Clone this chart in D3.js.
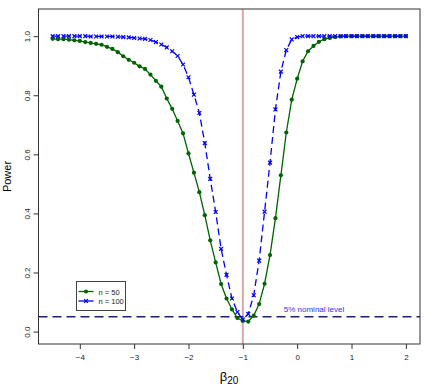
<!DOCTYPE html>
<html>
<head>
<meta charset="utf-8">
<script src="https://cdn.jsdelivr.net/npm/d3@7"></script>
<style>
  body { margin: 0; background: #fff; }
  text { font-family: "Liberation Sans", Arial, sans-serif; }
</style>
</head>
<body>
<svg id="chart" width="429" height="388"></svg>
<script>
/* valores */
var beta = d3.range(66).map(function(i){ return Math.round((-4.5 + i * 0.1) * 10) / 10; });

var power_n50 = [0.991, 0.990, 0.990, 0.988, 0.986, 0.984, 0.980, 0.977, 0.974, 0.971,
                 0.964, 0.957, 0.946, 0.932, 0.920, 0.910, 0.898, 0.889, 0.870, 0.849,
                 0.829, 0.789, 0.754, 0.713, 0.671, 0.603, 0.538, 0.472, 0.394, 0.309,
                 0.234, 0.161, 0.112, 0.075, 0.046, 0.036, 0.034, 0.054, 0.093, 0.162,
                 0.259, 0.384, 0.529, 0.674, 0.785, 0.856, 0.915, 0.949, 0.967, 0.981,
                 0.990, 0.994, 0.997, 0.999, 1.000, 1.000, 1.000, 1.000, 1.000, 1.000,
                 1.000, 1.000, 1.000, 1.000, 1.000, 1.000];

var power_n100 = [1.000, 1.000, 1.000, 1.000, 1.000, 1.000, 1.000, 0.999, 0.999, 0.999,
                  0.999, 0.999, 0.998, 0.997, 0.996, 0.994, 0.992, 0.991, 0.987, 0.980,
                  0.972, 0.962, 0.949, 0.933, 0.904, 0.861, 0.802, 0.740, 0.638, 0.517,
                  0.405, 0.280, 0.192, 0.112, 0.066, 0.041, 0.060, 0.123, 0.240, 0.406,
                  0.572, 0.752, 0.880, 0.953, 0.989, 0.997, 1.000, 1.000, 1.000, 1.000,
                  1.000, 1.000, 1.000, 1.000, 1.000, 1.000, 1.000, 1.000, 1.000, 1.000,
                  1.000, 1.000, 1.000, 1.000, 1.000, 1.000];

var xTicks = [-4, -3, -2, -1, 0, 1, 2];
var yTicks = [0.0, 0.2, 0.4, 0.6, 0.8, 1.0];
var legendLabels = ["n = 50", "n = 100"];
var nominal = 0.05;
var trueBeta = -1;

var box = {left: 38.5, right: 420, top: 9, bottom: 344};

var svg = d3.select("#chart");

var x = d3.scaleLinear().domain([-4.76, 2.26]).range([box.left, box.right]);
var y = d3.scaleLinear().domain([-0.042, 1.092]).range([box.bottom, box.top]);

/* linha vertical no valor verdadeiro */
svg.append("line")
  .attr("x1", x(trueBeta)).attr("x2", x(trueBeta))
  .attr("y1", box.top).attr("y2", box.bottom)
  .attr("stroke", "#dba8a8").attr("stroke-width", 2);

/* nivel nominal 5% */
svg.append("line")
  .attr("x1", box.left).attr("x2", box.right)
  .attr("y1", y(nominal)).attr("y2", y(nominal))
  .attr("stroke", "#1f1f7a").attr("stroke-width", 1.6)
  .attr("stroke-dasharray", "9,5");

svg.append("text")
  .attr("x", 314).attr("y", y(nominal) - 5)
  .attr("text-anchor", "middle")
  .attr("font-size", 8)
  .attr("fill", "#3333ff")
  .text("5% nominal level");

var line = d3.line()
  .x(function(d){ return x(d[0]); })
  .y(function(d){ return y(d[1]); });

var d50 = beta.map(function(b, i){ return [b, power_n50[i]]; });
var d100 = beta.map(function(b, i){ return [b, power_n100[i]]; });

/* n = 50 */
svg.append("path").datum(d50)
  .attr("d", line)
  .attr("fill", "none").attr("stroke", "#006400").attr("stroke-width", 1.3);
svg.selectAll(".dot50").data(d50).enter().append("circle")
  .attr("class", "dot50")
  .attr("cx", function(d){ return x(d[0]); })
  .attr("cy", function(d){ return y(d[1]); })
  .attr("r", 2.1)
  .attr("fill", "#006400");

/* n = 100 */
svg.append("path").datum(d100)
  .attr("d", line)
  .attr("fill", "none").attr("stroke", "#0000ff").attr("stroke-width", 1.3)
  .attr("stroke-dasharray", "7,4");

function cross(g, cx, cy, s){
  g.append("path")
    .attr("d", "M" + (cx - s) + "," + (cy - s) + "L" + (cx + s) + "," + (cy + s) +
               "M" + (cx - s) + "," + (cy + s) + "L" + (cx + s) + "," + (cy - s))
    .attr("stroke", "#0000ff").attr("stroke-width", 1.2).attr("fill", "none");
}
var gx = svg.append("g");
d100.forEach(function(d){ cross(gx, x(d[0]), y(d[1]), 1.9); });

/* caixa */
svg.append("rect")
  .attr("x", box.left).attr("y", box.top)
  .attr("width", box.right - box.left).attr("height", box.bottom - box.top)
  .attr("fill", "none").attr("stroke", "#333").attr("stroke-width", 1);

/* eixos */
var xAxis = d3.axisBottom(x).tickValues(xTicks).tickSizeOuter(0).tickSizeInner(5).tickPadding(5)
  .tickFormat(function(d){ return d < 0 ? "\u2212" + Math.abs(d) : d; });
var gxa = svg.append("g").attr("transform", "translate(0," + box.bottom + ")").call(xAxis);
gxa.select(".domain").remove();
gxa.selectAll("line").attr("stroke", "#333");
gxa.selectAll("text").attr("font-size", 8).attr("fill", "#222")
  .attr("font-family", "Liberation Sans, Arial, sans-serif");

var yAxis = d3.axisLeft(y).tickValues(yTicks).tickSizeOuter(0).tickSizeInner(5)
  .tickFormat(d3.format(".1f"));
var gya = svg.append("g").attr("transform", "translate(" + box.left + ",0)").call(yAxis);
gya.select(".domain").remove();
gya.selectAll("line").attr("stroke", "#333");
gya.selectAll("text")
  .attr("font-size", 8).attr("fill", "#222")
  .attr("font-family", "Liberation Sans, Arial, sans-serif")
  .attr("x", null).attr("dy", null)
  .attr("text-anchor", "middle")
  .attr("transform", "translate(-12,0) rotate(-90)")
  .attr("y", 3);

/* titulos dos eixos */
svg.append("text")
  .attr("transform", "translate(11," + ((box.top + box.bottom) / 2) + ") rotate(-90)")
  .attr("text-anchor", "middle")
  .attr("font-size", 11)
  .text("Power");

var xl = svg.append("text")
  .attr("x", 229).attr("y", 381)
  .attr("text-anchor", "middle")
  .attr("font-size", 13);
xl.append("tspan").text("\u03b2");
xl.append("tspan").attr("font-size", 10).attr("dy", 3).text("20");

/* legenda */
var leg = svg.append("g").attr("transform", "translate(76.5,281.5)");
leg.append("rect").attr("width", 49).attr("height", 29)
  .attr("fill", "#fff").attr("stroke", "#444").attr("stroke-width", 1);
var legColors = ["#006400", "#0000ff"];
legendLabels.forEach(function(lab, i){
  var ly = 10 + i * 9.5;
  leg.append("line").attr("x1", 2).attr("x2", 17).attr("y1", ly).attr("y2", ly)
    .attr("stroke", legColors[i]).attr("stroke-width", 1.3);
  if (i == 0) {
    leg.append("circle").attr("cx", 9.5).attr("cy", ly).attr("r", 2.1).attr("fill", legColors[0]);
  } else {
    cross(leg, 9.5, ly, 1.9);
  }
  leg.append("text").attr("x", 22).attr("y", ly + 3)
    .attr("font-size", 7.5).attr("fill", "#222").text(lab);
});
</script>
</body>
</html>
